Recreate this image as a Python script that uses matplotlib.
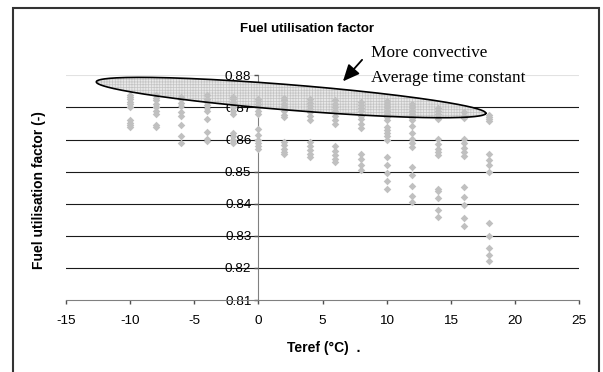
import numpy as np
import matplotlib
matplotlib.use("Agg")
import matplotlib.pyplot as plt
import matplotlib.patches as mpatches

# Teref columns and the fuel utilisation values
teref = [-10, -8, -6, -4, -2, 0, 2, 4, 6, 8, 10, 12, 14, 16, 18]
fuf = [
	[0.8738, 0.8732, 0.8725, 0.8718, 0.8710, 0.8703, 0.8660, 0.8652, 0.8645, 0.8638],
	[0.8738, 0.8730, 0.8722, 0.8712, 0.8702, 0.8690, 0.8680, 0.8645, 0.8640],
	[0.8733, 0.8725, 0.8715, 0.8705, 0.8685, 0.8675, 0.8645, 0.8610, 0.8590],
	[0.8738, 0.8728, 0.8718, 0.8708, 0.8698, 0.8690, 0.8663, 0.8625, 0.8602, 0.8597],
	[0.8733, 0.8726, 0.8718, 0.8710, 0.8700, 0.8688, 0.8680, 0.8620, 0.8610, 0.8600, 0.8590],
	[0.8728, 0.8720, 0.8710, 0.8700, 0.8690, 0.8680, 0.8632, 0.8615, 0.8600, 0.8590, 0.8580, 0.8572],
	[0.8730, 0.8722, 0.8712, 0.8700, 0.8688, 0.8678, 0.8670, 0.8592, 0.8582, 0.8572, 0.8562, 0.8556],
	[0.8725, 0.8715, 0.8705, 0.8695, 0.8685, 0.8672, 0.8660, 0.8592, 0.8580, 0.8568, 0.8556, 0.8546],
	[0.8722, 0.8712, 0.8700, 0.8688, 0.8675, 0.8662, 0.8650, 0.8580, 0.8565, 0.8552, 0.8540, 0.8530],
	[0.8718, 0.8708, 0.8698, 0.8688, 0.8675, 0.8665, 0.8648, 0.8635, 0.8556, 0.8540, 0.8522, 0.8505],
	[0.8720, 0.8710, 0.8700, 0.8690, 0.8680, 0.8670, 0.8660, 0.8640, 0.8630, 0.8620, 0.8610, 0.8598,
	 0.8545, 0.8520, 0.8495, 0.8470, 0.8445],
	[0.8712, 0.8702, 0.8690, 0.8680, 0.8668, 0.8660, 0.8642, 0.8622, 0.8602, 0.8588, 0.8576,
	 0.8515, 0.8490, 0.8455, 0.8424, 0.8404],
	[0.8698, 0.8690, 0.8680, 0.8670, 0.8663, 0.8602, 0.8586, 0.8572, 0.8560, 0.8552,
	 0.8447, 0.8440, 0.8417, 0.8380, 0.8360],
	[0.8685, 0.8675, 0.8667, 0.8602, 0.8590, 0.8575, 0.8560, 0.8550,
	 0.8452, 0.8420, 0.8396, 0.8356, 0.8330],
	[0.8676, 0.8670, 0.8664, 0.8658, 0.8555, 0.8535, 0.8520, 0.8500,
	 0.8340, 0.8298, 0.8263, 0.8240, 0.8222],
]

y_ticks = [0.81, 0.82, 0.83, 0.84, 0.85, 0.86, 0.87, 0.88]
x_ticks = [-15, -10, -5, 0, 5, 10, 15, 20, 25]

plt.rcParams['font.family'] = ['Liberation Sans', 'DejaVu Sans']
plt.rcParams['axes.unicode_minus'] = False
plt.rcParams['hatch.linewidth'] = 0.5

fig = plt.figure(figsize=(6.03, 3.72), dpi=100)
ax = fig.add_axes([0.1095, 0.1935, 0.8507, 0.6038])
ax.set_xlim(-15, 25)
ax.set_ylim(0.81, 0.88)

# horizontal gridlines
for v in y_ticks[1:-1]:
	ax.axhline(v, color='#1a1a1a', linewidth=0.8, zorder=1)
ax.axhline(y_ticks[-1], color='#e2e2e2', linewidth=0.8, zorder=1)

# scatter
xs, ys = [], []
for t, col in zip(teref, fuf):
	xs += [t] * len(col)
	ys += col
ax.scatter(xs, ys, marker='D', s=15, color='#c0c0c0', linewidths=0, zorder=3)

# ellipse around the top band (tips in data coords, minor axis in pixels)
px_x = 0.8507 * 603 / 40.0
px_y = 0.6038 * 372 / 0.07
tip_l = np.array([-12.64, 0.8780])
tip_r = np.array([17.73, 0.8682])
c = (tip_l + tip_r) / 2
a = (tip_r - tip_l) / 2
a_px = np.array([a[0] * px_x, a[1] * px_y])
n_px = np.array([-a_px[1], a_px[0]]) / np.hypot(*a_px) * 12.7
b = np.array([n_px[0] / px_x, n_px[1] / px_y])
t = np.linspace(0, 2 * np.pi, 300)
ex = c[0] + np.cos(t) * a[0] + np.sin(t) * b[0]
ey = c[1] + np.cos(t) * a[1] + np.sin(t) * b[1]
ax.fill(ex, ey, facecolor='#e8e8e8', edgecolor='#c4c4c4', hatch='++++++', linewidth=0, zorder=2)
ax.plot(ex, ey, color='black', linewidth=1.2, zorder=4, clip_on=False)

# axes styling, excel-like: y axis crossing at x=0
for s in ['top', 'right']:
	ax.spines[s].set_visible(False)
ax.spines['left'].set_position(('data', 0))
ax.spines['left'].set_color('#808080')
ax.spines['bottom'].set_color('#808080')
ax.spines['left'].set_zorder(1.5)
ax.set_xticks(x_ticks)
ax.set_yticks(y_ticks)
ax.set_yticklabels([f'{v:.2f}' for v in y_ticks])
ax.tick_params(axis='both', direction='out', length=3, width=1, color='#505050', labelsize=9.7, pad=2)
ax.tick_params(axis='x', pad=8)

fig.text(307 / 603, 1 - 29.5 / 372, 'Fuel utilisation factor', fontsize=9.5, fontweight='bold', ha='center', va='center')
fig.text(324 / 603, 1 - 348 / 372, 'Teref (°C)  .', fontsize=10, fontweight='bold', ha='center', va='center')
fig.text(38.6 / 603, 1 - 190 / 372, 'Fuel utilisation factor (-)', fontsize=10, fontweight='bold',
		 ha='center', va='center', rotation=90)

# annotations
ax.annotate('', xy=(6.45, 0.8775), xytext=(8.23, 0.8855), annotation_clip=False,
			arrowprops=dict(arrowstyle='-|>,head_length=1.0,head_width=0.45', color='black', lw=1.3))
fig.text(371 / 603, 1 - 53 / 372, 'More convective', fontsize=12.4, family='Liberation Serif', va='center')
fig.text(371 / 603, 1 - 78 / 372, 'Average time constant', fontsize=12.4, family='Liberation Serif', va='center')

# outer frame
fig.add_artist(mpatches.Rectangle((13 / 603, -0.01), (599 - 13) / 603, (372 - 7.5) / 372 + 0.01,
								  transform=fig.transFigure, fill=False, edgecolor='#333333', linewidth=1.5))

fig.savefig('out.png', dpi=100)
